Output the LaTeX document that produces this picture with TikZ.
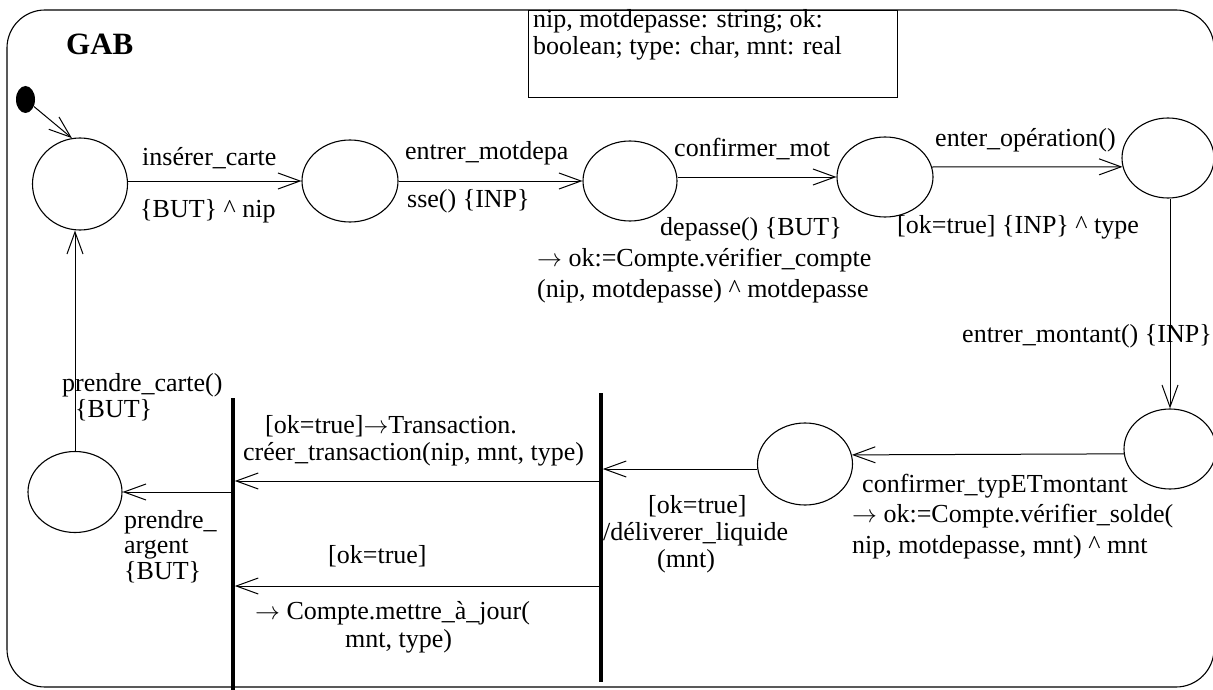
\documentclass[tikz,border=0pt]{standalone}
\usepackage{fontspec}
\setmainfont{Liberation Serif}
\usetikzlibrary{shapes.geometric,arrows.meta}
\begin{document}
\begin{tikzpicture}[x=1pt,y=-1pt,
  every node/.style={font=\fontsize{26}{30}\selectfont},
  state/.style={draw, ellipse, line width=1.1pt, inner sep=0pt, minimum width=95pt, minimum height=82pt},
  initial/.style={fill=black, ellipse, inner sep=0pt, minimum width=19pt, minimum height=27pt},
  syncbar/.style={fill=black, rectangle, inner sep=0pt, minimum width=3.2pt},
  trans/.style={line width=1pt, -{Straight Barb[length=22pt,width=16pt]}},
  lbl/.style={anchor=base west, inner sep=0pt},
  frame/.style={line width=1.1pt, rounded corners=38pt},
]
\useasboundingbox (0,0) rectangle (1213,690);

% enclosing composite state and its declarations
\draw[frame] (7,10) rectangle (1214,687);
\node[lbl, font=\fontsize{31}{34}\selectfont\bfseries] (gab) at (66,55) {GAB};
\node[draw, line width=1pt, rectangle, minimum width=369pt, minimum height=87pt, anchor=north west] (decl) at (528,10) {};
\node[lbl] (decl1) at (533,28) {nip, motdepasse: string; ok:};
\node[lbl] (decl2) at (533,55) {boolean; type: char, mnt: real};

% states
\node[initial] (init) at (25.5,99.5) {};
\node[state, minimum height=92pt] (s1) at (80,184) {};
\node[state, minimum width=96pt] (s2) at (350,181) {};
\node[state, minimum width=94pt, minimum height=80pt] (s3) at (630,181) {};
\node[state, minimum width=96pt, minimum height=80pt] (s4) at (885,177) {};
\node[state, minimum width=92pt, minimum height=80pt] (s5) at (1168,158) {};
\node[state, minimum width=92pt, minimum height=80pt] (s6) at (1170,449) {};
\node[state, minimum height=82pt] (s7) at (805,464) {};
\node[state, minimum width=94pt, minimum height=81pt] (s8) at (75,492) {};

% synchronisation bars
\node[syncbar, minimum height=292pt, anchor=north] (b1) at (233,398) {};
\node[syncbar, minimum height=289pt, anchor=north] (b2) at (601,393) {};

% rows used by the transitions between the bars
\coordinate (rowdeliver) at (0,469);
\coordinate (rowtrans) at (0,481);
\coordinate (rowmaj) at (0,586);

% transitions
\draw[trans] (init) -- (s1.100);
\draw[trans] (s1.east |- s2.west) -- (s2.west);
\draw[trans] (s2.east) -- (s3.west);
\draw[trans] (s3.east |- s4.west) -- (s4.west);
\draw[trans] (s4.12) -- (s5.191);
\draw[trans] (s5.south -| s6.north) -- (s6.north);
\draw[trans] (s6.186) -- (s7.11);
\draw[trans] (s7.west |- rowdeliver) -- (b2.east |- rowdeliver);
\draw[trans] (b2.west |- rowtrans) -- (b1.east |- rowtrans);
\draw[trans] (b2.west |- rowmaj) -- (b1.east |- rowmaj);
\draw[trans] (b1.west |- s8.east) -- (s8.east);
\draw[trans] (s8.north) -- (s8.north |- s1.south);

% transition labels
\node[lbl] (l1a) at (142,166) {insérer\_carte};
\node[lbl] (l1b) at (140,217) {\{BUT\} \textasciicircum\ nip};
\node[lbl] (l2a) at (405,160) {entrer\_motdepa};
\node[lbl] (l2b) at (407,207) {sse() \{INP\}};
\node[lbl] (l3a) at (674,157) {confirmer\_mot};
\node[lbl] (l3b) at (660,235) {depasse() \{BUT\}};
\node[lbl] (l3c) at (537,266) {$\rightarrow$ ok:=Compte.vérifier\_compte};
\node[lbl] (l3d) at (537,297) {(nip, motdepasse) \textasciicircum\ motdepasse};
\node[lbl] (l4a) at (935,147) {enter\_opération()};
\node[lbl] (l4b) at (897,233) {[ok=true] \{INP\} \textasciicircum\ type};
\node[lbl] (l5) at (962,342) {entrer\_montant() \{INP\}};
\node[lbl] (l6a) at (862,492) {confirmer\_typETmontant};
\node[lbl] (l6b) at (852,522) {$\rightarrow$ ok:=Compte.vérifier\_solde(};
\node[lbl] (l6c) at (852,553) {nip, motdepasse, mnt) \textasciicircum\ mnt};
\node[lbl] (l7a) at (648,513) {[ok=true]};
\node[lbl] (l7b) at (603,540) {/déliverer\_liquide};
\node[lbl] (l7c) at (657,567) {(mnt)};
\node[lbl] (l8a) at (265,433) {[ok=true]$\rightarrow$Transaction.};
\node[lbl] (l8b) at (243,460) {créer\_transaction(nip, mnt, type)};
\node[lbl] (l9a) at (328,563) {[ok=true]};
\node[lbl] (l9b) at (255,619) {$\rightarrow$ Compte.mettre\_à\_jour(};
\node[lbl] (l9c) at (345,647) {mnt, type)};
\node[lbl] (l10a) at (124,528) {prendre\_};
\node[lbl] (l10b) at (124,553) {argent};
\node[lbl] (l10c) at (124,579) {\{BUT\}};
\node[lbl] (l11a) at (62,391) {prendre\_carte()};
\node[lbl] (l11b) at (75,417) {\{BUT\}};
\end{tikzpicture}
\end{document}
